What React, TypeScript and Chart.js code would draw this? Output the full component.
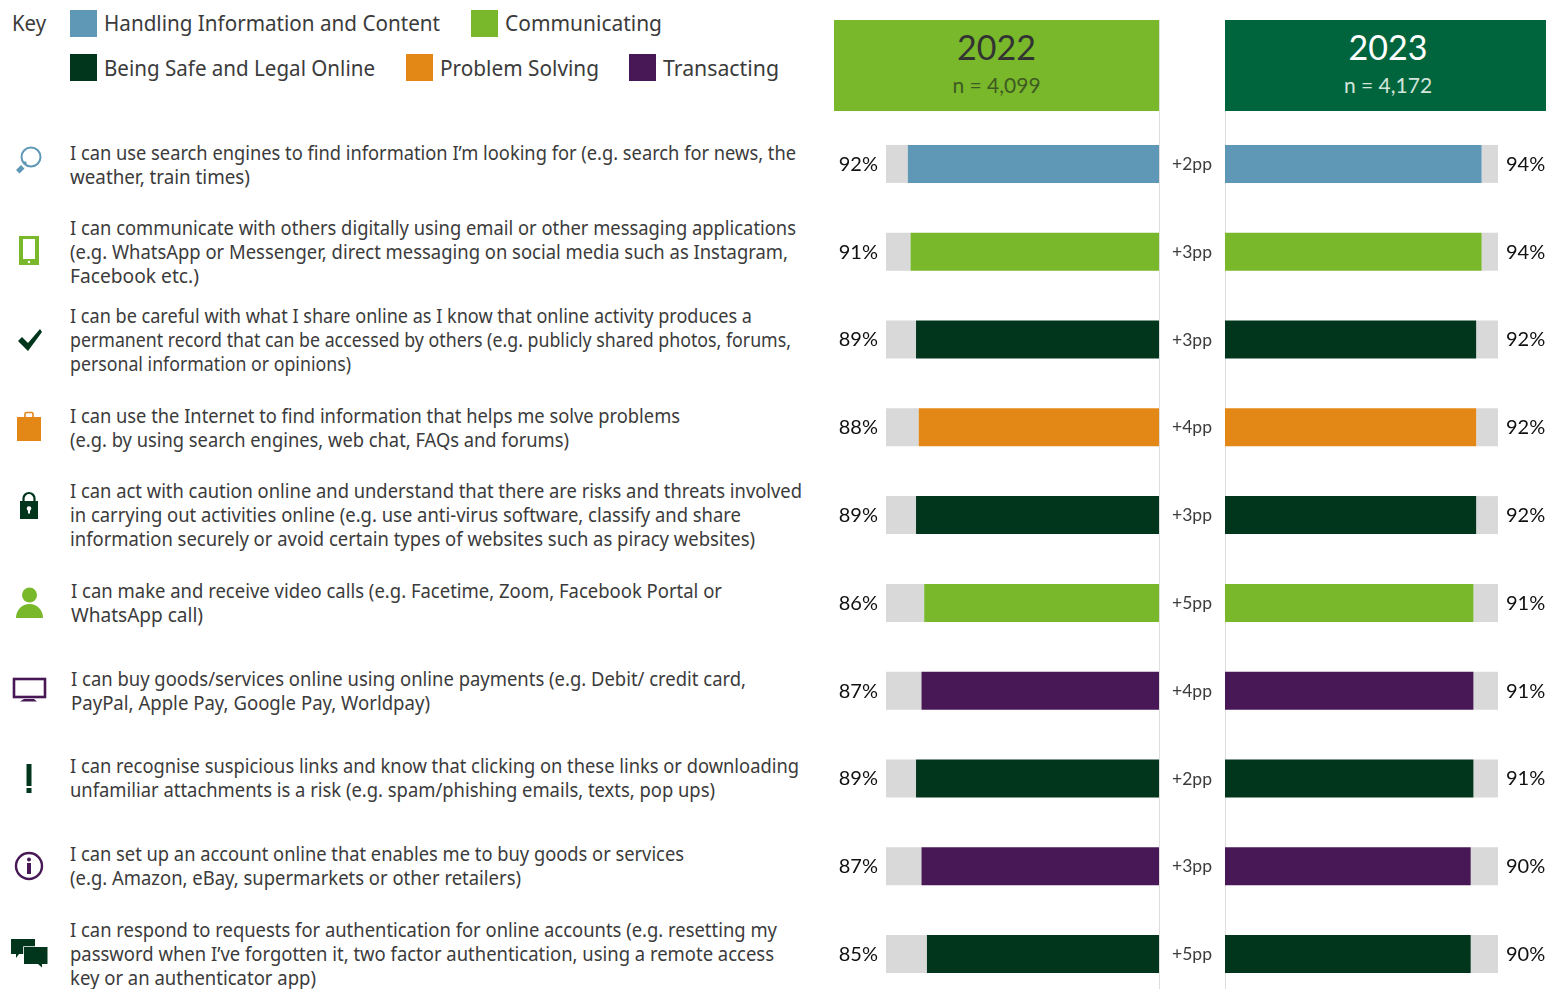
import React, { useEffect, useRef } from "react";
import { Chart, registerables } from "chart.js";

Chart.register(...registerables);

const statements = [
  "I can use search engines to find information I’m looking for (e.g. search for news, the\nweather, train times)",
  "I can communicate with others digitally using email or other messaging applications\n(e.g. WhatsApp or Messenger, direct messaging on social media such as Instagram,\nFacebook etc.)",
  "I can be careful with what I share online as I know that online activity produces a\npermanent record that can be accessed by others (e.g. publicly shared photos, forums,\npersonal information or opinions)",
  "I can use the Internet to find information that helps me solve problems\n(e.g. by using search engines, web chat, FAQs and forums)",
  "I can act with caution online and understand that there are risks and threats involved\nin carrying out activities online (e.g. use anti-virus software, classify and share\ninformation securely or avoid certain types of websites such as piracy websites)",
  "I can make and receive video calls (e.g. Facetime, Zoom, Facebook Portal or\nWhatsApp call)",
  "I can buy goods/services online using online payments (e.g. Debit/ credit card,\nPayPal, Apple Pay, Google Pay, Worldpay)",
  "I can recognise suspicious links and know that clicking on these links or downloading\nunfamiliar attachments is a risk (e.g. spam/phishing emails, texts, pop ups)",
  "I can set up an account online that enables me to buy goods or services\n(e.g. Amazon, eBay, supermarkets or other retailers)",
  "I can respond to requests for authentication for online accounts (e.g. resetting my\npassword when I’ve forgotten it, two factor authentication, using a remote access\nkey or an authenticator app)",
];
const values2022 = [92, 91, 89, 88, 89, 86, 87, 89, 87, 85];
const values2023 = [94, 94, 92, 92, 92, 91, 91, 91, 90, 90];
const changes = ["+2pp", "+3pp", "+3pp", "+4pp", "+3pp", "+5pp", "+4pp", "+2pp", "+3pp", "+5pp"];
const blue = "#5F98B6", green = "#78B82A", dark = "#02361C", orange = "#E38816", purple = "#481856";
const rowColours = [blue, green, dark, orange, dark, green, purple, dark, purple, dark];
const trackColour = "#D9D9D9";
const textColour = "#3B3B3B";
const keyItems = [
  { label: "Handling Information and Content", colour: blue, x: 70, y: 10, baseline: 31, end: 440 },
  { label: "Communicating", colour: green, x: 471, y: 10, baseline: 31, end: 662 },
  { label: "Being Safe and Legal Online", colour: dark, x: 70, y: 54, baseline: 76, end: 375 },
  { label: "Problem Solving", colour: orange, x: 406, y: 54, baseline: 76, end: 599 },
  { label: "Transacting", colour: purple, x: 629, y: 54, baseline: 76, end: 779 },
];
const textTops = [141, 216, 304, 404, 479, 579, 667, 754, 842, 918];
const textLefts = [70, 70, 70, 70, 70, 71, 71, 70, 70, 70];
const lineEnds = [
  [796, 250],
  [796, 788, 199],
  [752, 791, 351],
  [680, 569],
  [802, 741, 755],
  [722, 203],
  [746, 430],
  [799, 715],
  [684, 521],
  [777, 774, 316],
];

const BODY = '"Noto Sans", sans-serif';
const NUM = 'Lato, sans-serif';

function useBars(
  ref: React.RefObject<HTMLCanvasElement | null>,
  values: number[],
  reverse: boolean,
  changeLabels: string[] | null,
) {
  useEffect(() => {
    if (!ref.current) return;
    const labelPlugin = {
      id: "rowLabels",
      afterDatasetsDraw(chart: any) {
        const { ctx, scales } = chart;
        ctx.save();
        ctx.textBaseline = "middle";
        values.forEach((v, i) => {
          const y = scales.y.getPixelForValue(i) + 0.5;
          const end = scales.x.getPixelForValue(100);
          ctx.font = `20px ${NUM}`;
          ctx.fillStyle = "#111111";
          if (reverse) {
            ctx.textAlign = "right";
            ctx.fillText(`${v}%`, end - 8, y);
          } else {
            ctx.textAlign = "left";
            ctx.fillText(`${v}%`, end + 8, y);
          }
          if (changeLabels) {
            ctx.font = `17.5px ${NUM}`;
            ctx.fillStyle = textColour;
            ctx.textAlign = "center";
            ctx.fillText(changeLabels[i], scales.x.getPixelForValue(0) + 33, y);
          }
        });
        ctx.restore();
      },
    };
    const chart = new Chart(ref.current, {
      type: "bar",
      data: {
        labels: statements,
        datasets: [
          { data: values, backgroundColor: rowColours, borderWidth: 0, barPercentage: 1, categoryPercentage: 38 / 87.8 },
          { data: values.map((v) => 100 - v), backgroundColor: trackColour, borderWidth: 0, barPercentage: 1, categoryPercentage: 38 / 87.8 },
        ],
      },
      options: {
        indexAxis: "y",
        animation: false,
        responsive: false,
        maintainAspectRatio: false,
        layout: { padding: reverse ? { left: 52, right: 66 } : { right: 48 } },
        plugins: { legend: { display: false }, tooltip: { enabled: false } },
        scales: {
          x: { type: "linear", stacked: true, min: 0, max: 100, reverse, display: false },
          y: { type: "category", stacked: true, display: false },
        },
      },
      plugins: [labelPlugin],
    } as any);
    return () => chart.destroy();
  }, []);
}

const icons: React.ReactNode[] = [
  <g key="0">
    <circle cx="31" cy="157" r="9.5" fill="none" stroke={blue} strokeWidth="2" />
    <path d="M16 170l5-5 3.500 3.500-5 5z M23 163l2-2 2 2-2 2z" fill={blue} />
  </g>,
  <g key="1">
    <rect x="19" y="236" width="20" height="29" fill={green} />
    <rect x="23" y="239" width="12" height="20" fill="#fff" />
    <circle cx="29" cy="262" r="1.2" fill="#fff" />
  </g>,
  <path key="2" d="M18 342l4-4 6 6 12-14 2 3-14 19z" fill={dark} transform="translate(0,-1)" />,
  <g key="3">
    <rect x="17" y="417" width="24" height="24" fill={orange} />
    <path d="M25 418v-4a1.500 1.500 0 0 1 1.500-1.500h5A1.500 1.500 0 0 1 33 414v4" fill="none" stroke={orange} strokeWidth="1.6" />
  </g>,
  <g key="4">
    <rect x="20" y="501" width="18" height="18" fill={dark} />
    <path d="M23.500 502v-3.500a5.500 5.500 0 0 1 11 0v3.500" fill="none" stroke={dark} strokeWidth="2.2" />
    <circle cx="29" cy="508.500" r="2.3" fill="#fff" />
    <rect x="28" y="509" width="2" height="4.500" fill="#fff" />
  </g>,
  <g key="5">
    <circle cx="29.500" cy="595" r="7.500" fill={green} />
    <path d="M16 618c0-8 6-14 13.500-14S43 610 43 618z" fill={green} />
  </g>,
  <g key="6">
    <rect x="14" y="679" width="31" height="18" fill="none" stroke={purple} strokeWidth="2.6" />
    <path d="M24 699h10l3 2.500H20z" fill={purple} />
  </g>,
  <g key="7">
    <rect x="26.500" y="764" width="5" height="22" fill={dark} />
    <rect x="26.500" y="788" width="5" height="5" fill={dark} />
  </g>,
  <g key="8">
    <circle cx="29" cy="866" r="13" fill="none" stroke={purple} strokeWidth="2.4" />
    <circle cx="29" cy="859.500" r="2" fill={purple} />
    <rect x="27" y="863" width="4" height="11" fill={purple} />
  </g>,
  <g key="9">
    <path d="M11 939h24v15H19l-3 4v-4h-5z" fill={dark} />
    <path d="M24 947h23.500v17h-5.500v3.500l-4-3.500H24z" fill={dark} stroke="#fff" strokeWidth="1.6" paintOrder="stroke" />
  </g>,
];

const abs = (x: number, y: number, extra: React.CSSProperties = {}): React.CSSProperties => ({
  position: "absolute",
  left: x,
  top: y,
  whiteSpace: "pre",
  ...extra,
});

export default function App() {
  const leftRef = useRef<HTMLCanvasElement | null>(null);
  const rightRef = useRef<HTMLCanvasElement | null>(null);
  useBars(leftRef, values2022, true, changes);
  useBars(rightRef, values2023, false, null);
  useEffect(() => {
    document.body.style.margin = "0";
  }, []);
  return (
    <div style={{ position: "relative", width: 1546, height: 989, overflow: "hidden", background: "#fff" }}>
      <div style={abs(1159, 20, { width: 1, height: 969, background: "#DEDEDE" })} />
      <div style={abs(1225, 20, { width: 1, height: 969, background: "#DEDEDE" })} />
      <canvas ref={leftRef} width={391} height={878} style={{ position: "absolute", left: 834, top: 120, display: "block" }} />
      <canvas ref={rightRef} width={321} height={878} style={{ position: "absolute", left: 1225, top: 120, display: "block" }} />

      {keyItems.map((k) => (
        <div key={k.label} style={abs(k.x, k.y, { width: 27, height: 27, background: k.colour })} />
      ))}

      <div style={abs(834, 20, { width: 325, height: 91, background: green, textAlign: "center", color: "#333" })}>
        <div style={{ fontFamily: NUM, fontSize: 34, lineHeight: "36px", marginTop: 9 }}>2022</div>
        <div style={{ fontFamily: NUM, fontSize: 21, lineHeight: "26px", marginTop: 7, color: "#3f5a22" }}>n = 4,099</div>
      </div>
      <div style={abs(1225, 20, { width: 326, height: 91, background: "#00653D", textAlign: "center", color: "#fff" })}>
        <div style={{ fontFamily: NUM, fontSize: 34, lineHeight: "36px", marginTop: 9 }}>2023</div>
        <div style={{ fontFamily: NUM, fontSize: 21, lineHeight: "26px", marginTop: 7, color: "#d5e5dc" }}>n = 4,172</div>
      </div>

      <svg width={830} height={989} style={{ position: "absolute", left: 0, top: 0 }}>
        {icons}
        <g fontFamily={BODY} fontSize={22.5} fill={textColour}>
          <text x={12} y={31} textLength={34} lengthAdjust="spacingAndGlyphs">Key</text>
          {keyItems.map((k) => (
            <text key={k.label} x={k.x + 34} y={k.baseline} textLength={k.end - k.x - 34} lengthAdjust="spacingAndGlyphs">{k.label}</text>
          ))}
        </g>
        <g fontFamily={BODY} fontSize={20} fill={textColour}>
          {statements.map((s, i) =>
            s.split("\n").map((line, j) => (
              <text
                key={`${i}-${j}`}
                x={textLefts[i]}
                y={textTops[i] + 18.8 + 24 * j}
                textLength={lineEnds[i][j] - textLefts[i]}
                lengthAdjust="spacingAndGlyphs"
              >
                {line}
              </text>
            )),
          )}
        </g>
      </svg>
    </div>
  );
}
